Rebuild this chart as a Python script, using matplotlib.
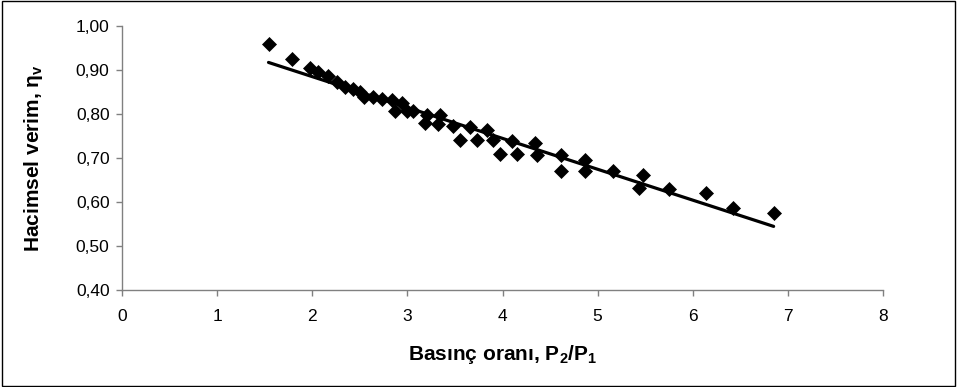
import matplotlib
matplotlib.use('Agg')
import matplotlib.pyplot as plt
from matplotlib.patches import Rectangle
from matplotlib.ticker import FuncFormatter
import numpy as np

# Data
pressure_ratio = [1.54, 1.79, 1.98, 2.06, 2.17, 2.26, 2.34, 2.43, 2.50, 2.54,
                  2.64, 2.73, 2.84, 2.94, 2.87, 3.00, 3.06, 3.21, 3.19, 3.34,
                  3.32, 3.48, 3.55, 3.66, 3.73, 3.84, 3.90, 3.97, 4.10, 4.15,
                  4.34, 4.36, 4.61, 4.62, 4.87, 4.87, 5.16, 5.48, 5.43, 5.75,
                  6.14, 6.42, 6.85]
vol_efficiency = [0.959, 0.925, 0.905, 0.895, 0.886, 0.873, 0.861, 0.857, 0.850, 0.839,
                  0.839, 0.834, 0.832, 0.825, 0.807, 0.807, 0.807, 0.798, 0.780, 0.798,
                  0.777, 0.773, 0.741, 0.770, 0.741, 0.764, 0.741, 0.709, 0.739, 0.709,
                  0.734, 0.707, 0.707, 0.670, 0.695, 0.670, 0.670, 0.661, 0.632, 0.630,
                  0.620, 0.586, 0.575]

x_ticks = [0, 1, 2, 3, 4, 5, 6, 7, 8]
y_ticks = [0.40, 0.50, 0.60, 0.70, 0.80, 0.90, 1.00]

plt.rcParams['font.family'] = ['Liberation Sans', 'DejaVu Sans']
plt.rcParams['mathtext.fontset'] = 'custom'
plt.rcParams['mathtext.rm'] = 'Liberation Sans:bold'
plt.rcParams['mathtext.bf'] = 'Liberation Sans:bold'
plt.rcParams['mathtext.it'] = 'Liberation Sans:bold'

fig = plt.figure(figsize=(9.57, 3.87), dpi=100)
ax = fig.add_axes([0.1275, 0.2506, 0.7952, 0.6822])

# linear trend line (Excel style) fitted to the points
coef = np.polyfit(pressure_ratio, vol_efficiency, 1)
xs = np.array([min(pressure_ratio), max(pressure_ratio)])
ax.plot(xs, np.polyval(coef, xs), color='black', lw=2.3, solid_capstyle='round', zorder=2)

ax.plot(pressure_ratio, vol_efficiency, linestyle='none', marker='D', ms=6.8,
        color='black', mec='black', mew=0.5, zorder=3)

ax.set_xlim(0, 8)
ax.set_ylim(0.4, 1.0)
ax.set_xticks(x_ticks)
ax.set_yticks(y_ticks)
ax.yaxis.set_major_formatter(FuncFormatter(lambda v, p: f'{v:.2f}'.replace('.', ',')))

for s in ['top', 'right']:
    ax.spines[s].set_visible(False)
for s in ['left', 'bottom']:
    ax.spines[s].set_color('#808080')
    ax.spines[s].set_linewidth(1.0)
ax.tick_params(axis='both', direction='out', length=4, width=1.0, color='#808080',
               labelsize=12.5, labelcolor='black')
ax.tick_params(axis='x', pad=10)
ax.tick_params(axis='y', pad=5)

ax.set_xlabel(r'Basınç oranı, P$_\mathrm{2}$/P$_\mathrm{1}$', fontsize=15,
              fontweight='bold')
ax.set_ylabel(r'Hacimsel verim, η$_\mathrm{v}$', fontsize=15,
              fontweight='bold')
ax.xaxis.set_label_coords(0.5, -0.2)
ax.yaxis.set_label_coords(-0.101, 0.5)

# outer frame around the whole chart
fig.patches.append(Rectangle((0.002, 0.003), 0.996, 0.994, transform=fig.transFigure,
                             fill=False, edgecolor='black', lw=1.0))

fig.savefig('out.png', dpi=100)
